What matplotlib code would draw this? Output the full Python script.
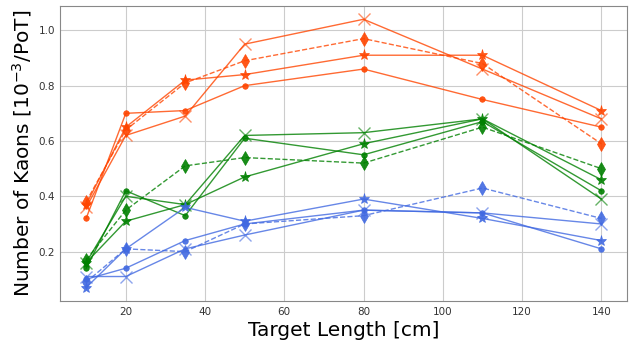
import matplotlib.pyplot as plt
import numpy as np

# target lengths [cm]
lengths = [10, 20, 35, 50, 80, 110, 140]

# kaon yields [1e-3/PoT], one list per configuration
orange_dot = [0.32, 0.70, 0.71, 0.80, 0.86, 0.75, 0.65]
orange_x = [0.36, 0.62, 0.69, 0.95, 1.04, 0.86, 0.68]
orange_star = [0.37, 0.65, 0.82, 0.84, 0.91, 0.91, 0.71]
orange_dia = [0.38, 0.64, 0.81, 0.89, 0.97, 0.88, 0.59]

green_dot = [0.14, 0.42, 0.33, 0.61, 0.55, 0.67, 0.42]
green_x = [0.16, 0.40, 0.37, 0.62, 0.63, 0.68, 0.39]
green_star = [0.16, 0.31, 0.37, 0.47, 0.59, 0.68, 0.46]
green_dia = [0.17, 0.35, 0.51, 0.54, 0.52, 0.65, 0.50]

blue_dot = [0.10, 0.14, 0.24, 0.30, 0.35, 0.34, 0.21]
blue_x = [0.11, 0.11, 0.21, 0.26, 0.35, 0.34, 0.30]
blue_star = [0.07, 0.21, 0.36, 0.31, 0.39, 0.32, 0.24]
blue_dia = [0.09, 0.21, 0.20, 0.30, 0.33, 0.43, 0.32]

groups = [
    ('orangered', [orange_dot, orange_x, orange_star, orange_dia]),
    ('green', [green_dot, green_x, green_star, green_dia]),
    ('royalblue', [blue_dot, blue_x, blue_star, blue_dia]),
]
styles = [('o', '-', 4), ('x', '-', 8), ('*', '-', 8), ('d', '--', 7)]

fig, ax = plt.subplots(figsize=(6.29, 3.44), dpi=100)

for col, series in groups:
    for vals, (mk, ls, ms) in zip(series, styles):
        ax.plot(lengths, vals, color=col, linestyle=ls, linewidth=1,
                alpha=0.8)
        ax.plot(lengths, vals, color=col, linestyle='none', marker=mk,
                markersize=ms, markeredgewidth=1 if mk == 'x' else 0.5,
                alpha=0.9 if mk != 'x' else 0.6)

ax.grid(True, color='#cccccc', linewidth=0.8)
ax.set_axisbelow(True)
ax.tick_params(length=0, labelsize=7.5, labelcolor='#333333', pad=4)
for sp in ax.spines.values():
    sp.set_color('#888888')

ax.set_xlabel('Target Length [cm]', fontsize=14.5, labelpad=3)
ax.set_ylabel('Number of Kaons [$10^{-3}$/PoT]', fontsize=14.5, labelpad=3)
ax.set_yticks([0.2, 0.4, 0.6, 0.8, 1.0])

fig.subplots_adjust(left=0.096, right=0.997, top=0.983, bottom=0.125)
fig.savefig('out.png')
